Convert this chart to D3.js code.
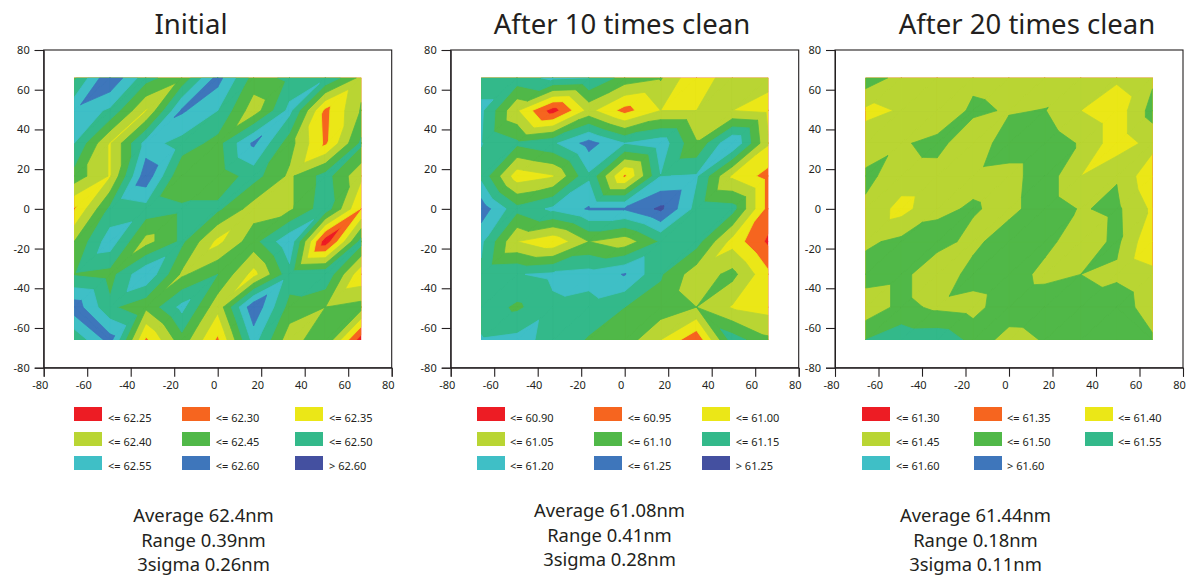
<!DOCTYPE html>
<html><head><meta charset="utf-8">
<script src="https://cdn.jsdelivr.net/npm/d3@7"></script>
<style>html,body{margin:0;background:#fff}svg{display:block}text{fill:#231f20;font-family:"Noto Sans",sans-serif}</style>
</head><body><svg id="c" width="1188" height="576"></svg>
<script>
const colours = ["#ED1C24","#F6651F","#EBE717","#B9D533","#50B848","#33B98A","#3FBFC6","#3E76BB","#4450A0"];
const axisTicks = [-80,-60,-40,-20,0,20,40,60,80];
const gridX = [-66,-49.5,-33,-16.5,0,16.5,33,49.5,66];
const gridY = [66,49.5,33,16.5,0,-16.5,-33,-49.5,-66];

const titles = ["Initial","After 10 times clean","After 20 times clean"];
const thresholds1 = [62.25,62.30,62.35,62.40,62.45,62.50,62.55,62.60];
const thresholds2 = [60.90,60.95,61.00,61.05,61.10,61.15,61.20,61.25];
const thresholds3 = [61.30,61.35,61.40,61.45,61.50,61.55,61.60];
const stats1 = ["Average 62.4nm","Range 0.39nm","3sigma 0.26nm"];
const stats2 = ["Average 61.08nm","Range 0.41nm","3sigma 0.28nm"];
const stats3 = ["Average 61.44nm","Range 0.18nm","3sigma 0.11nm"];

// rows run from y=66 (top) to y=-66 (bottom), columns from x=-66 to x=66
const values1 = [
 62.44,62.595,62.47,62.41,62.57,62.43,62.46,62.497,62.385,
 62.54,62.49,62.345,62.558,62.50,62.37,62.515,62.285,62.405,
 62.50,62.345,62.52,62.48,62.43,62.56,62.42,62.29,62.46,
 62.43,62.345,62.585,62.40,62.42,62.47,62.39,62.47,62.36,
 62.295,62.46,62.48,62.46,62.46,62.375,62.39,62.48,62.295,
 62.40,62.53,62.38,62.46,62.335,62.43,62.54,62.215,62.47,
 62.445,62.43,62.545,62.39,62.45,62.33,62.48,62.49,62.31,
 62.58,62.46,62.41,62.515,62.365,62.59,62.43,62.40,62.42,
 62.46,62.57,62.29,62.43,62.29,62.52,62.37,62.445,62.22];
const values2 = [
 61.13,61.13,61.16,61.15,61.08,61.055,60.955,61.04,61.01,
 61.16,61.005,60.875,61.015,60.93,61.00,61.00,61.00,60.987,
 61.152,61.11,61.14,61.22,61.15,61.18,61.055,61.20,61.005,
 61.135,60.97,60.995,61.14,60.94,61.148,61.155,60.99,60.93,
 61.23,61.115,61.16,61.205,61.205,61.26,61.13,61.12,60.93,
 61.16,61.00,60.96,61.05,61.02,61.105,61.12,60.98,60.89,
 61.14,61.147,61.16,61.17,61.203,61.105,61.02,61.065,60.96,
 61.13,61.09,61.14,61.13,61.10,61.08,61.05,60.995,60.98,
 61.154,61.165,61.135,61.095,61.078,61.00,60.91,61.125,61.06];
const values3 = [
 61.48,61.432,61.43,61.437,61.43,61.42,61.43,61.4075,61.44,
 61.39,61.403,61.41,61.46,61.445,61.452,61.40,61.37,61.47,
 61.42,61.444,61.465,61.415,61.48,61.48,61.445,61.37,61.4184,
 61.46,61.43,61.431,61.4375,61.43,61.48,61.40,61.4465,61.359,
 61.442,61.38,61.441,61.455,61.434,61.48,61.446,61.46,61.39,
 61.44,61.463,61.468,61.4356,61.482,61.4664,61.418,61.462,61.355,
 61.475,61.465,61.413,61.47,61.48,61.433,61.45,61.44,61.415,
 61.415,61.465,61.44,61.43,61.487,61.49,61.465,61.48,61.421,
 61.50,61.53,61.5325,61.487,61.425,61.455,61.48,61.47,61.458];
// grid cells [column,row] split along the other diagonal
const flips1 = [[0,7]];
const flips2 = [[6,7],[7,7]];
const flips3 = [[7,7]];

const layouts = [
 {left:43.7,values:values1,flips:flips1,th:thresholds1,stats:stats1,titleX:191,statX:203.5,statY:522,sw:[74,182,295],lab:[108,215.7,329]},
 {left:450.7,values:values2,flips:flips2,th:thresholds2,stats:stats2,titleX:622,statX:609.5,statY:517,sw:[477,594,702],lab:[510,627.7,735.7]},
 {left:835,values:values3,flips:flips3,th:thresholds3,stats:stats3,titleX:1027,statX:975.5,statY:522,sw:[862,974,1085],lab:[896,1007,1118]}
];
const W = 348, T = 50, B = 367.7;
const svg = d3.select("#c");

// part of a triangle [[x,y,v],...] whose value is at or above t
function above(tri,t){
  const out=[];
  tri.forEach((a,i)=>{
    const b=tri[(i+1)%tri.length];
    if(a[2]>=t) out.push(a);
    if((a[2]>=t)!==(b[2]>=t)){
      const f=(t-a[2])/(b[2]-a[2]);
      out.push([a[0]+f*(b[0]-a[0]),a[1]+f*(b[1]-a[1]),t]);
    }
  });
  return out;
}

layouts.forEach((p,k)=>{
  const g = svg.append("g");
  const x = d3.scaleLinear().domain([-80,80]).range([p.left,p.left+W]);
  const y = d3.scaleLinear().domain([-80,80]).range([B,T]);
  const n = gridX.length;
  const vert = (c,r)=>[gridX[c],gridY[r],p.values[r*n+c]];
  const tris = [];
  for(let r=0;r<n-1;r++) for(let c=0;c<n-1;c++){
    if(p.flips.some(f=>f[0]===c&&f[1]===r)){
      tris.push([vert(c,r),vert(c+1,r+1),vert(c,r+1)]);
      tris.push([vert(c,r),vert(c+1,r),vert(c+1,r+1)]);
    } else {
      tris.push([vert(c,r),vert(c+1,r),vert(c,r+1)]);
      tris.push([vert(c+1,r),vert(c+1,r+1),vert(c,r+1)]);
    }
  }
  const clipId = "clip"+k;
  svg.append("clipPath").attr("id",clipId).append("rect")
    .attr("x",x(-66)).attr("y",y(66)).attr("width",x(66)-x(-66)).attr("height",y(-66)-y(66));
  const levels = [-Infinity,...p.th];
  const plot = g.append("g").attr("clip-path",`url(#${clipId})`);
  plot.selectAll("path").data(levels).join("path").attr("d",t=>{
    const pth=d3.path();
    tris.forEach(tri=>{
      const poly=above(tri,t);
      if(poly.length<3) return;
      poly.forEach((q,i)=> i? pth.lineTo(x(q[0]),y(q[1])) : pth.moveTo(x(q[0]),y(q[1])));
      pth.closePath();
    });
    return pth.toString();
  }).attr("fill",(t,i)=>colours[i]).attr("stroke",(t,i)=>colours[i]).attr("stroke-width",0.8).attr("stroke-linejoin","round");

  // frame
  g.append("rect").attr("x",x(-80)).attr("y",y(80)).attr("width",W).attr("height",B-T)
    .attr("fill","none").attr("stroke","#231f20").attr("stroke-width",1.1);
  const ay = g.append("g").attr("transform",`translate(${x(-80)},0)`)
    .call(d3.axisLeft(y).tickValues(axisTicks).tickFormat(d=>String(d)).tickSize(9).tickPadding(5));
  const ax = g.append("g").attr("transform",`translate(0,${B})`)
    .call(d3.axisBottom(x).tickValues(axisTicks).tickFormat(d=>String(d)).tickSize(9).tickPadding(5));
  [ax,ay].forEach(a=>{
    a.select(".domain").attr("stroke","#231f20");
    a.selectAll("line").attr("stroke","#231f20").attr("stroke-width",1.1);
    a.selectAll("text").attr("font-size",11).attr("fill","#231f20");
  });
  ax.selectAll("text").attr("dx",-4);

  g.append("text").attr("x",p.titleX).attr("y",34).attr("text-anchor","middle")
    .attr("font-size",27.5).text(titles[k]);

  // legend
  const labels = p.th.map(v=>"<= "+v.toFixed(2)).concat(["> "+p.th[p.th.length-1].toFixed(2)]);
  const rowY = [407,432,456], baseY = [421.7,445.7,470];
  labels.forEach((t,i)=>{
    const c = i%3, r = Math.floor(i/3);
    g.append("rect").attr("x",p.sw[c]).attr("y",rowY[r]).attr("width",28).attr("height",14)
      .attr("fill",colours[i]);
    g.append("text").attr("x",p.lab[c]).attr("y",baseY[r]).attr("font-size",11).text(t);
  });

  p.stats.forEach((t,i)=>{
    g.append("text").attr("x",p.statX).attr("y",p.statY+i*24.7).attr("text-anchor","middle")
      .attr("font-size",18.4).text(t);
  });
});
</script></body></html>
